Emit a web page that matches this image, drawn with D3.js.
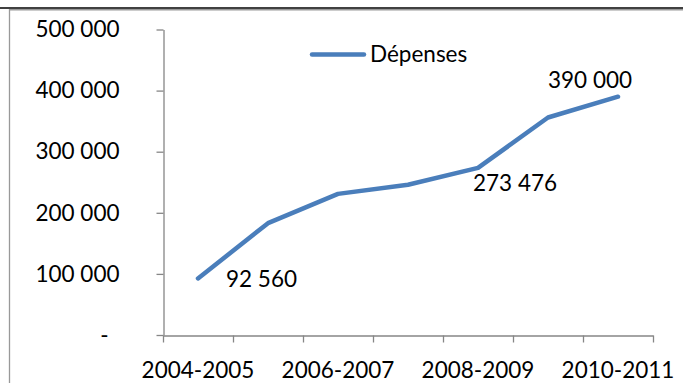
<!DOCTYPE html>
<html>
<head>
<meta charset="utf-8">
<script src="https://cdn.jsdelivr.net/npm/d3@7"></script>
<style>
  body { margin: 0; background: #fff; }
  svg { display: block; font-family: Lato, "Open Sans", sans-serif; }
</style>
</head>
<body>
<div id="chart"></div>
<script>
// data
var years = ["2004-2005","2005-2006","2006-2007","2007-2008","2008-2009","2009-2010","2010-2011"],
    depenses = [92560, 183000, 231000, 246000, 273476, 356000, 390000],
    yTicks = [0, 100000, 200000, 300000, 400000, 500000],
    shownYears = ["2004-2005","2006-2007","2008-2009","2010-2011"],
    labelled = [0, 4, 6],
    seriesName = "Dépenses";

var width = 683,
    height = 383,
    fontSize = "22.5px",
    blue = "#4a7ebb",
    grey = "#868686";

var fr = d3.formatLocale({decimal: ",", thousands: " ", grouping: [3], currency: ["", ""]}),
    fmt = fr.format(",d");

var svg = d3.select("#chart").append("svg")
    .attr("width", width)
    .attr("height", height);

// page rule + chart frame
svg.append("line")
    .attr("x1", 0).attr("x2", width).attr("y1", 8).attr("y2", 8)
    .attr("stroke", "#000").attr("stroke-width", 1.6);
svg.append("path")
    .attr("d", "M9.5," + height + "V9.75H" + width)
    .attr("fill", "none").attr("stroke", "#999").attr("stroke-width", 1.3);

var x = d3.scaleBand()
    .domain(years)
    .range([163, 653])
    .padding(0);

// edges of the categories, for the tick marks
var xEdge = d3.scaleLinear()
    .domain([0, years.length])
    .range(x.range());

var y = d3.scaleLinear()
    .domain([0, 500000])
    .range([335, 29.5]);

var yAxis = svg.append("g")
    .attr("transform", "translate(163.5,0)")
    .call(d3.axisLeft(y)
        .tickValues(yTicks)
        .tickSize(7)
        .tickSizeOuter(0)
        .tickPadding(37)
        .tickFormat(function(d){ return d == 0 ? "-" : fmt(d); }));

var xAxis = svg.append("g")
    .attr("transform", "translate(0,335.5)")
    .call(d3.axisBottom(xEdge)
        .tickValues(d3.range(years.length + 1))
        .tickSize(7)
        .tickSizeOuter(0)
        .tickFormat(""));

svg.selectAll(".domain, .tick line")
    .attr("stroke", grey)
    .attr("stroke-width", 1.3);

yAxis.attr("font-family", null).attr("font-size", null);
xAxis.attr("font-family", null).attr("font-size", null);
yAxis.selectAll("text")
    .style("font-size", fontSize)
    .attr("fill", "#000")
    .attr("dx", function(d){ return d == 0 ? -11 : 0; });

// category labels, every other year
svg.append("g").selectAll("text")
    .data(shownYears)
    .enter().append("text")
    .attr("x", function(d){ return x(d) + x.bandwidth() / 2; })
    .attr("y", 378)
    .attr("text-anchor", "middle")
    .style("font-size", fontSize)
    .attr("fill", "#000")
    .text(function(d){ return d; });

var line = d3.line()
    .x(function(d, i){ return x(years[i]) + x.bandwidth() / 2; })
    .y(function(d){ return y(d); });

svg.append("path")
    .datum(depenses)
    .attr("d", line)
    .attr("fill", "none")
    .attr("stroke", blue)
    .attr("stroke-width", 4.5)
    .attr("stroke-linecap", "round")
    .attr("stroke-linejoin", "round");

// data labels, nudged like the original
var nudge = {0: [28, 1], 4: [-5, 15], 6: [-70, -17]};
svg.append("g").selectAll("text")
    .data(labelled)
    .enter().append("text")
    .attr("x", function(i){ return x(years[i]) + x.bandwidth() / 2 + nudge[i][0]; })
    .attr("y", function(i){ return y(depenses[i]) + nudge[i][1]; })
    .attr("dy", "0.35em")
    .style("font-size", fontSize)
    .attr("fill", "#000")
    .text(function(i){ return fmt(depenses[i]); });

// legend
var legend = svg.append("g").attr("transform", "translate(312,54.5)");
legend.append("line")
    .attr("x1", 0).attr("x2", 52)
    .attr("stroke", blue).attr("stroke-width", 4.5)
    .attr("stroke-linecap", "round");
legend.append("text")
    .attr("x", 58)
    .attr("dy", "0.35em")
    .style("font-size", fontSize)
    .attr("fill", "#000")
    .text(seriesName);
</script>
</body>
</html>
